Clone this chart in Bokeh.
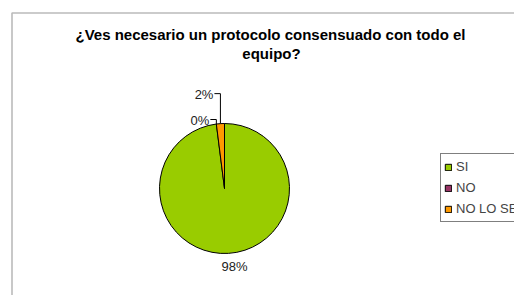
import numpy as np
from bokeh.plotting import figure
from bokeh.models import ColumnDataSource, Legend, LegendItem, BoxAnnotation
from bokeh.core.properties import value
from bokeh.embed import file_html
from bokeh.resources import INLINE

# ---- data ----
title_lines = ["¿Ves necesario un protocolo consensuado con todo el", "equipo?"]
categories = ["SI", "NO", "NO LO SE"]
values = [98, 0, 2]
colors = ["#99CC00", "#993366", "#FF9900"]

FONT = "Liberation Sans"
W, H = 514, 295
p = figure(width=W, height=H, x_range=(0, W), y_range=(0, H),
           output_backend="svg", toolbar_location=None, min_border=0)
p.axis.visible = False
p.grid.visible = False
p.outline_line_color = None
p.background_fill_color = "white"
p.border_fill_color = "white"

# chart border (extends beyond window on right/bottom)
p.add_layout(BoxAnnotation(left=11.5, top=282.5, right=3000, bottom=-3000,
                           fill_alpha=0, line_color="#1a1a1a", line_width=1.6))

# pie geometry
cx, cy, r = 224, 107, 65
vals = np.array(values, dtype=float)
frac = vals / vals.sum()
cum = np.cumsum(frac)
prev = cum - frac
start = np.pi / 2 - 2 * np.pi * prev
end = np.pi / 2 - 2 * np.pi * cum
mid = (start + end) / 2

full = dict(x=[cx] * 3, y=[cy] * 3, start=list(start), end=list(end),
            color=colors, cat=categories)
nz = [i for i in range(3) if vals[i] > 0]
drawn = ColumnDataSource({k: [v[i] for i in nz] for k, v in full.items()})
p.wedge(x="x", y="y", radius=r, start_angle="start", end_angle="end",
        direction="clock", fill_color="color", line_color="black",
        line_width=1, source=drawn)

# renderer used only for the legend swatches (zero radius -> invisible)
legend_src = ColumnDataSource(full)
leg_r = p.wedge(x="x", y="y", radius=0, start_angle="start", end_angle="end",
                direction="clock", fill_color="color", line_color="black",
                line_width=1, source=legend_src)

# labels
labels = [f"{round(v)}%" for v in vals]
leader_rise = [0, 4.5, 30]
lx, ly, align = [], [], []
lines_x, lines_y = [], []
for i in range(3):
    ax = cx + r * np.cos(mid[i])
    ay = cy + r * np.sin(mid[i])
    if leader_rise[i] == 0:
        lx.append(cx + (r + 14) * np.cos(mid[i]) + 5)
        ly.append(cy + (r + 14) * np.sin(mid[i]) + 1)
        align.append("center")
    else:
        ey = ay + leader_rise[i]
        lines_x.append([ax, ax, ax - 6])
        lines_y.append([ay, ey, ey])
        lx.append(ax - 7)
        ly.append(ey - 1)
        align.append("right")
p.multi_line(xs=lines_x, ys=lines_y, line_color="black", line_width=1)
p.text(x=lx, y=ly, text=labels, text_align=align, text_baseline="middle",
       text_font=value(FONT), text_font_size="13px", text_color="#222222")

# title
p.text(x=[270, 271], y=[261, 242], text=title_lines, text_align="center",
       text_baseline="middle", text_font=value(FONT), text_font_size="15px",
       text_font_style="bold", text_color="black")

# legend
items = [LegendItem(label=c, renderers=[leg_r], index=i) for i, c in enumerate(categories)]
legend = Legend(items=items, location=(440, 73), orientation="vertical",
                glyph_width=8, glyph_height=8, label_height=19, spacing=2,
                padding=3, margin=0, label_standoff=4,
                label_text_font=FONT, label_text_font_size="13px",
                border_line_color="black", border_line_width=1,
                background_fill_color="white", background_fill_alpha=1)
p.add_layout(legend, "center")

open("out.html", "w").write(file_html(p, INLINE))
